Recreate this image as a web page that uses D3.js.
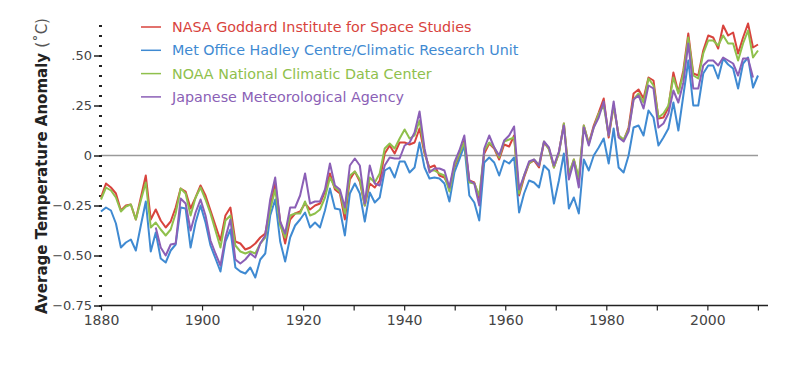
<!DOCTYPE html>
<html>
<head>
<meta charset="utf-8">
<script src="https://cdn.jsdelivr.net/npm/d3@7"></script>
<style>
  body { margin: 0; background: #fff; }
  svg text { font-family: "DejaVu Sans", Verdana, sans-serif; }
  .tick text { fill: #444; font-size: 13px; }
</style>
</head>
<body>
<svg id="chart" width="800" height="365"></svg>
<script>
// years 1880-2012 (JMA 1891-2011)
var firstYear = 1880, lastYear = 2012;
var jmaFirst = 1891;

var nasa = [-0.21,-0.14,-0.16,-0.19,-0.275,-0.25,-0.245,-0.32,-0.21,-0.10,
  -0.32,-0.27,-0.325,-0.36,-0.33,-0.26,-0.165,-0.18,-0.265,-0.21,
  -0.15,-0.20,-0.275,-0.35,-0.425,-0.30,-0.26,-0.43,-0.44,-0.47,
  -0.46,-0.44,-0.41,-0.39,-0.26,-0.14,-0.33,-0.44,-0.32,-0.29,
  -0.28,-0.24,-0.27,-0.25,-0.24,-0.18,-0.09,-0.17,-0.19,-0.32,
  -0.12,-0.08,-0.13,-0.25,-0.14,-0.16,-0.125,0.01,0.05,0.01,
  0.065,0.065,0.055,0.065,0.135,0.01,-0.06,-0.05,-0.10,-0.11,
  -0.16,-0.06,0.00,0.075,-0.125,-0.135,-0.215,0.01,0.06,0.035,
  -0.02,0.055,0.045,0.10,-0.20,-0.11,-0.04,-0.025,-0.06,0.065,
  0.035,-0.06,0.015,0.16,-0.10,-0.02,-0.125,0.15,0.06,0.15,
  0.215,0.285,0.09,0.25,0.10,0.075,0.14,0.31,0.33,0.285,
  0.39,0.375,0.185,0.19,0.24,0.415,0.315,0.425,0.61,0.41,
  0.40,0.525,0.60,0.59,0.535,0.65,0.60,0.615,0.51,0.59,
  0.66,0.54,0.555];

var hadley = [-0.28,-0.26,-0.275,-0.34,-0.46,-0.435,-0.42,-0.475,-0.35,-0.23,
  -0.48,-0.385,-0.515,-0.535,-0.475,-0.445,-0.26,-0.265,-0.46,-0.335,
  -0.25,-0.335,-0.45,-0.515,-0.58,-0.43,-0.37,-0.56,-0.58,-0.59,
  -0.56,-0.61,-0.52,-0.49,-0.30,-0.22,-0.43,-0.53,-0.41,-0.35,
  -0.32,-0.285,-0.36,-0.335,-0.36,-0.275,-0.165,-0.265,-0.27,-0.40,
  -0.19,-0.14,-0.19,-0.33,-0.185,-0.235,-0.21,-0.075,-0.06,-0.11,
  -0.03,-0.03,-0.085,-0.06,0.065,-0.06,-0.115,-0.11,-0.115,-0.14,
  -0.23,-0.085,-0.02,0.05,-0.20,-0.235,-0.325,-0.035,-0.01,-0.035,
  -0.10,-0.025,-0.04,-0.01,-0.285,-0.19,-0.125,-0.135,-0.16,-0.05,
  -0.075,-0.24,-0.125,0.01,-0.265,-0.21,-0.29,-0.02,-0.075,0.00,
  0.04,0.085,-0.04,0.135,-0.06,-0.085,0.00,0.14,0.15,0.10,
  0.225,0.19,0.05,0.09,0.135,0.265,0.125,0.30,0.475,0.25,
  0.25,0.41,0.45,0.45,0.385,0.485,0.455,0.435,0.335,0.46,
  0.49,0.34,0.40];

var noaa = [-0.22,-0.16,-0.175,-0.21,-0.28,-0.255,-0.245,-0.32,-0.225,-0.135,
  -0.36,-0.335,-0.37,-0.40,-0.37,-0.29,-0.165,-0.19,-0.30,-0.21,
  -0.16,-0.22,-0.29,-0.375,-0.46,-0.325,-0.30,-0.45,-0.48,-0.49,
  -0.48,-0.49,-0.44,-0.41,-0.27,-0.17,-0.35,-0.41,-0.30,-0.29,
  -0.29,-0.23,-0.30,-0.29,-0.27,-0.21,-0.11,-0.16,-0.18,-0.29,
  -0.10,-0.08,-0.12,-0.25,-0.11,-0.135,-0.09,0.035,0.06,0.035,
  0.085,0.13,0.085,0.10,0.175,0.02,-0.075,-0.075,-0.09,-0.10,
  -0.18,-0.05,0.01,0.065,-0.135,-0.14,-0.20,0.025,0.065,0.04,
  -0.01,0.07,0.08,0.09,-0.19,-0.10,-0.04,-0.02,-0.05,0.07,
  0.03,-0.06,0.01,0.16,-0.09,-0.02,-0.11,0.15,0.06,0.14,
  0.21,0.25,0.10,0.25,0.10,0.08,0.13,0.28,0.31,0.265,
  0.385,0.35,0.19,0.21,0.25,0.39,0.31,0.41,0.59,0.40,
  0.385,0.51,0.575,0.575,0.55,0.60,0.56,0.56,0.475,0.56,
  0.625,0.49,0.525];

var jma = [-0.36,-0.46,-0.50,-0.445,-0.44,-0.215,-0.24,-0.375,-0.285,
  -0.22,-0.30,-0.425,-0.49,-0.55,-0.41,-0.32,-0.52,-0.54,-0.52,
  -0.49,-0.51,-0.44,-0.40,-0.22,-0.11,-0.33,-0.39,-0.26,-0.26,
  -0.20,-0.09,-0.24,-0.23,-0.23,-0.17,-0.04,-0.15,-0.17,-0.26,
  -0.05,-0.015,-0.05,-0.24,-0.05,-0.14,-0.15,-0.05,-0.01,-0.015,
  -0.015,0.05,0.065,0.115,0.22,0.035,-0.085,-0.065,-0.065,-0.075,
  -0.16,-0.035,0.025,0.10,-0.125,-0.14,-0.25,0.035,0.10,0.04,
  0.00,0.075,0.10,0.145,-0.17,-0.10,-0.03,-0.02,-0.05,0.07,
  0.04,-0.05,0.02,0.15,-0.12,-0.03,-0.16,0.14,0.05,0.14,
  0.19,0.27,0.10,0.27,0.09,0.07,0.12,0.28,0.30,0.235,
  0.35,0.335,0.14,0.16,0.21,0.325,0.265,0.365,0.56,0.335,
  0.335,0.45,0.475,0.475,0.45,0.49,0.475,0.46,0.40,0.485,
  0.485,0.39];

var seriesNames = ["NASA Goddard Institute for Space Studies",
  "Met Office Hadley Centre/Climatic Research Unit",
  "NOAA National Climatic Data Center",
  "Japanese Meteorological Agency"];
var seriesColors = ["#d8433d", "#3f8ad2", "#8fc04c", "#8b5fb6"];
var seriesData = [nasa, hadley, noaa, jma];
var seriesStart = [firstYear, firstYear, firstYear, jmaFirst];

var yMajor = [-0.75, -0.5, -0.25, 0, 0.25, 0.5];
var xTicks = d3.range(1880, 2011, 10);
var xLabels = d3.range(1880, 2001, 20);

var svg = d3.select("#chart");

var y = d3.scaleLinear().domain([-0.75, 0.5]).range([305.5, 55.5]);
// data and axis don't use the exact same horizontal scale in the original
var x = d3.scaleLinear().domain([firstYear, lastYear]).range([101, 758]);
var xAxisScale = d3.scaleLinear().domain([firstYear, lastYear]).range([101, 768]);

// zero line
svg.append("line")
  .attr("x1", x(firstYear)).attr("x2", x(lastYear))
  .attr("y1", y(0)).attr("y2", y(0))
  .attr("stroke", "#9a9a9a").attr("stroke-width", 1.5);

// y axis: minor ticks
var yMinor = svg.append("g")
  .attr("transform", "translate(102,0)")
  .call(d3.axisLeft(y)
    .tickValues(d3.range(-75, 66, 5).map(function (v) { return v / 100; }))
    .tickSize(3).tickFormat(""));
yMinor.select(".domain").remove();
yMinor.selectAll(".tick line").attr("stroke", "#222").attr("stroke-width", 2);

// y axis: major ticks + labels
var fmt = function (d) {
  if (d === 0) return "0";
  return d3.format(".2f")(d).replace(/^(-?)0\./, "$1.");
};
var yAx = svg.append("g")
  .attr("transform", "translate(101,0)")
  .call(d3.axisLeft(y).tickValues(yMajor).tickSize(7).tickPadding(2).tickFormat(fmt));
yAx.select(".domain").remove();
yAx.selectAll(".tick line").attr("stroke", "#222").attr("stroke-width", 1.5);

// x axis
var xAx = svg.append("g")
  .attr("transform", "translate(0," + y(-0.75) + ")")
  .call(d3.axisBottom(xAxisScale).tickValues(xTicks).tickSize(5).tickPadding(5)
    .tickFormat(function (d) { return xLabels.indexOf(d) >= 0 ? d : ""; }));
xAx.select(".domain").attr("stroke", "#222").attr("stroke-width", 1.5)
  .attr("d", "M" + xAxisScale(firstYear) + ",0H" + xAxisScale(lastYear));
xAx.selectAll(".tick line").attr("stroke", "#222").attr("stroke-width", 1.2);
xAx.selectAll(".tick text").style("font-size", "14px");

// lines
var line = d3.line()
  .x(function (d) { return x(d.year); })
  .y(function (d) { return y(d.value); });

seriesData.forEach(function (vals, i) {
  var pts = vals.map(function (v, j) { return { year: seriesStart[i] + j, value: v }; });
  svg.append("path")
    .datum(pts)
    .attr("fill", "none")
    .attr("stroke", seriesColors[i])
    .attr("stroke-width", 2)
    .attr("stroke-linejoin", "round")
    .attr("d", line);
});

// legend
var legend = svg.append("g").attr("transform", "translate(141,27)");
seriesNames.forEach(function (name, i) {
  var row = legend.append("g").attr("transform", "translate(0," + (i * 23.3) + ")");
  row.append("line").attr("x1", 0).attr("x2", 20)
    .attr("stroke", seriesColors[i]).attr("stroke-width", 1.5);
  row.append("text").attr("x", 31).attr("dy", "0.35em")
    .style("font-size", "14.3px").attr("fill", seriesColors[i]).text(name);
});

// y label
var yl = svg.append("text")
  .attr("transform", "translate(47,166) rotate(-90)")
  .attr("text-anchor", "middle")
  .style("font-size", "15px").attr("fill", "#222");
yl.append("tspan").style("font-weight", "bold").text("Average Temperature Anomaly ");
yl.append("tspan").attr("fill", "#555").text("(˚C)");
</script>
</body>
</html>
